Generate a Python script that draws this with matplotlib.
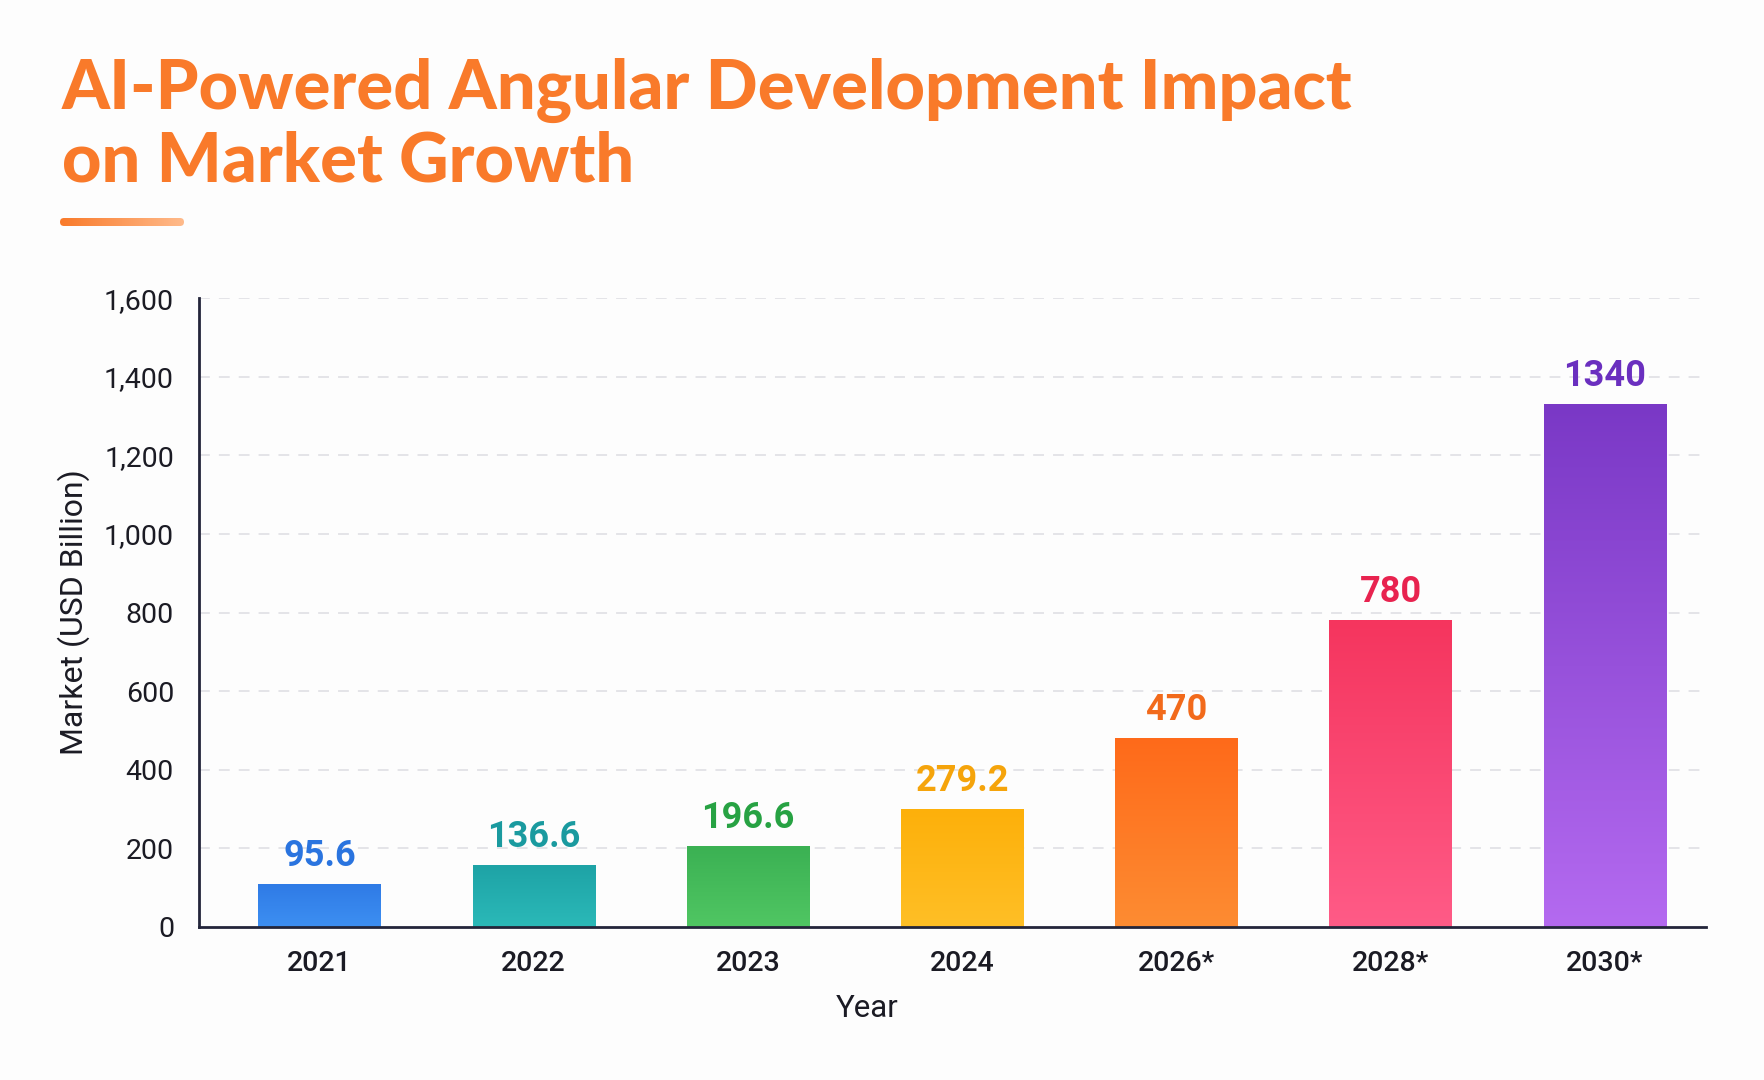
import numpy as np
import matplotlib
matplotlib.use("Agg")
import matplotlib.pyplot as plt
from matplotlib.colors import LinearSegmentedColormap
from matplotlib.patches import FancyBboxPatch

years = ["2021", "2022", "2023", "2024", "2026*", "2028*", "2030*"]
bar_heights = [109, 156, 206, 300, 480, 781, 1330]
value_labels = ["95.6", "136.6", "196.6", "279.2", "470", "780", "1340"]
y_ticks = [0, 200, 400, 600, 800, 1000, 1200, 1400, 1600]

# top colour, bottom colour, label colour
bar_top = ["#2f7be6", "#1ea3a6", "#3bb153", "#fdb00a", "#ff6a1a", "#f5355e", "#7a38c6"]
bar_bottom = ["#3d8ff2", "#2bb9b8", "#50c663", "#ffbf26", "#fd8c32", "#ff5b87", "#b46af0"]
label_colors = ["#2a74df", "#1a9a9f", "#27a243", "#f5a40b", "#f26a1b", "#e8234f", "#6a2fbf"]

TITLE_COLOR = "#f97a2a"
TEXT = "#1b1b24"
W, H = 1764, 1080

fig = plt.figure(figsize=(W / 100, H / 100), dpi=100)
fig.patch.set_facecolor("#fdfdfd")

# title
title_font = ["Lato", "DejaVu Sans"]
t1 = fig.text(62 / W, 1 - 109 / H, "AI-Powered Angular Development Impact",
              fontsize=48, fontweight="black", color=TITLE_COLOR,
              family=title_font, va="baseline", ha="left")
t2 = fig.text(62 / W, 1 - 182 / H, "on Market Growth",
              fontsize=48, fontweight="black", color=TITLE_COLOR,
              family=title_font, va="baseline", ha="left")
fig.canvas.draw()
r = fig.canvas.get_renderer()
w = t1.get_window_extent(r).width
fs = 48 * (1351 - 62) / w
t1.set_fontsize(fs)
t2.set_fontsize(fs)

# underline bar with gradient
uax = fig.add_axes([60 / W, 1 - 226 / H, 124 / W, 8 / H])
uax.set_axis_off()
uax.set_xlim(0, 124)
uax.set_ylim(0, 8)
grad = LinearSegmentedColormap.from_list("u", ["#f97a2a", "#ffbb8c"])
im = uax.imshow(np.linspace(0, 1, 256)[None, :], cmap=grad, aspect="auto",
                extent=(0, 124, 0, 8))
clip = FancyBboxPatch((0, 0), 124, 8, boxstyle="round,pad=0,rounding_size=4",
                      facecolor="none", edgecolor="none")
uax.add_patch(clip)
im.set_clip_path(clip)

# main chart
ax = fig.add_axes([199 / W, 1 - 926.7 / H, (1706 - 199) / W, (926.7 - 298.3) / H])
ax.set_facecolor("none")
x = np.arange(len(years))
bars = ax.bar(x, bar_heights, width=0.57, color="none", zorder=3)
for i, b in enumerate(bars):
    cmap = LinearSegmentedColormap.from_list("b%d" % i, [bar_bottom[i], bar_top[i]])
    x0, y0 = b.get_x(), b.get_y()
    img = ax.imshow(np.linspace(0, 1, 256)[:, None], cmap=cmap, origin="lower",
                    aspect="auto", extent=(x0, x0 + b.get_width(), y0, y0 + b.get_height()),
                    zorder=3)
    img.set_clip_path(b)
    ax.annotate(value_labels[i], (b.get_x() + b.get_width() / 2, b.get_height()),
                xytext=(0, 13), textcoords="offset points", ha="center", va="baseline",
                fontsize=26, fontweight="bold", color=label_colors[i],
                family=["Roboto", "DejaVu Sans"], zorder=4)

ax.set_xlim(-0.5625, 6.473)
ax.set_ylim(0, 1600)
ax.set_yticks(y_ticks)
ax.set_yticklabels(["{:,}".format(v) for v in y_ticks])
ax.set_xticks(x)
ax.set_xticklabels(years)

for v in y_ticks[1:]:
    ax.axhline(v, color="#e2e2e6", lw=1.3, linestyle=(0, (6, 5)), zorder=1)

for s in ["top", "right"]:
    ax.spines[s].set_visible(False)
for s in ["left", "bottom"]:
    ax.spines[s].set_color("#23253a")
    ax.spines[s].set_linewidth(2)
    ax.spines[s].set_zorder(5)

ax.tick_params(axis="both", length=0)
ax.tick_params(axis="y", pad=18, labelsize=20.5, labelcolor=TEXT)
ax.tick_params(axis="x", pad=17, labelsize=20.5, labelcolor=TEXT)
for lab in ax.get_yticklabels():
    lab.set_family(["Roboto", "DejaVu Sans"])
for lab in ax.get_xticklabels():
    lab.set_family(["Roboto", "DejaVu Sans"])
    lab.set_fontweight("medium")

ax.set_ylabel("Market (USD Billion)", fontsize=23, color=TEXT,
              family=["Roboto", "DejaVu Sans"])
ax.yaxis.set_label_coords((90 - 199) / (1706 - 199), 0.5)
ax.set_xlabel("Year", fontsize=22.5, color=TEXT, family=["Roboto", "DejaVu Sans"])
ax.xaxis.set_label_coords((867 - 199) / (1706 - 199), -0.107)

fig.savefig("out.png", dpi=100, facecolor=fig.get_facecolor())
